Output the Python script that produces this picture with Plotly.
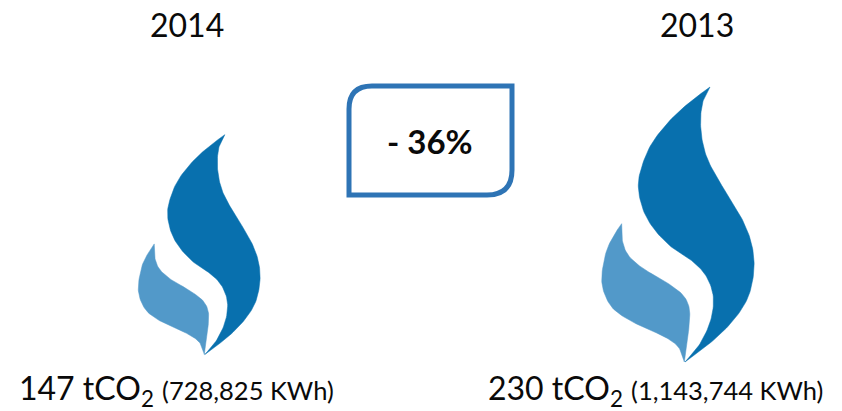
import numpy as np
import plotly.graph_objects as go

# Annual figures
years = ["2014", "2013"]
emissions_tco2 = [147, 230]
energy_kwh = ["728,825", "1,143,744"]
reduction_label = "- 36%"

FONT = "Lato"
DARK_BLUE = "#0870AE"
LIGHT_BLUE = "#5299C9"
BOX_BLUE = "#2E74B5"

# Flame outline in unit coordinates: each edge runs from one sharp corner to the next
FLAME_EDGES = {
    "dark": [
        [(360, 20), (340, 60), (332, 110), (335, 170), (350, 230), (380, 290), (420, 355),
         (458, 420), (482, 480), (492, 540), (488, 600), (470, 660), (430, 720), (370, 780), (285, 845)],
        [(285, 845), (330, 790), (362, 720), (370, 650), (350, 590), (310, 545), (250, 505),
         (195, 450), (160, 390), (145, 320), (155, 260), (185, 190), (240, 120), (300, 65), (360, 20)],
    ],
    "light": [
        [(95, 430), (97, 480), (115, 525), (160, 565), (220, 600), (275, 640), (297, 680),
         (298, 730), (290, 790), (283, 845)],
        [(283, 845), (265, 800), (225, 770), (170, 745), (110, 715), (65, 680), (40, 630),
         (36, 580), (50, 510), (75, 460), (95, 430)],
    ],
}


def smooth_edge(points, steps=10):
    """Catmull-Rom curve through the points, keeping both end corners sharp."""
    p = np.array(points, dtype=float)
    p = np.vstack([p[0], p, p[-1]])
    t = np.linspace(0, 1, steps, endpoint=False)[:, None]
    out = []
    for i in range(1, len(p) - 2):
        a, b, c, d = p[i - 1], p[i], p[i + 1], p[i + 2]
        out.append(0.5 * (2 * b + (c - a) * t + (2 * a - 5 * b + 4 * c - d) * t**2
                          + (3 * b - a - 3 * c + d) * t**3))
    out.append(p[-2][None, :])
    return np.vstack(out)


def unit_outline(edges):
    xy = np.vstack([smooth_edge(e) for e in edges])
    return (xy[:, 0] - 36) / 456, (xy[:, 1] - 20) / 825


# Flame area scales with emissions; each flame is placed by its left edge and base point
SCALE_REF_VALUE = 230
REF_WIDTH, REF_HEIGHT = 152, 275
flame_left = [138.5, 602]
flame_bottom = [354.5, 362]

fig = go.Figure()

for year, value, left, bottom in zip(years, emissions_tco2, flame_left, flame_bottom):
    k = np.sqrt(value / SCALE_REF_VALUE)
    w, h = REF_WIDTH * k, REF_HEIGHT * k
    for part, color in (("light", LIGHT_BLUE), ("dark", DARK_BLUE)):
        u, v = unit_outline(FLAME_EDGES[part])
        fig.add_trace(go.Scatter(
            x=left + u * w, y=bottom - h + v * h,
            mode="lines", fill="toself", fillcolor=color,
            line=dict(color=color, width=0.5), hoverinfo="skip", name=f"{year} {part}",
        ))

# Callout box with two rounded corners
fig.add_shape(
    type="path",
    path="M 372 86 L 512 86 L 512 170 Q 512 195 487 195 L 349 195 L 349 109 Q 349 86 372 86 Z",
    line=dict(color=BOX_BLUE, width=5), fillcolor="white", layer="below",
)


def text(x, y, s, size, **kw):
    fig.add_annotation(x=x, y=y, text=s, showarrow=False, xanchor="center", yanchor="middle",
                       font=dict(family=FONT, size=size, color="#0A0A0A"), **kw)


year_x = [187, 697]
for year, x in zip(years, year_x):
    text(x, 24, year, 32)

text(430, 141, f"<b>{reduction_label}</b>", 33)

caption_x = [176, 655]
for value, kwh, x in zip(emissions_tco2, energy_kwh, caption_x):
    caption = (f"{value} tCO<sub>2</sub> "
               f"<span style='font-size:25.5px'>({kwh} KWh)</span>")
    text(x, 390, caption, 32)

fig.update_layout(
    width=842, height=411, margin=dict(l=0, r=0, t=0, b=0),
    paper_bgcolor="white", plot_bgcolor="white", showlegend=False,
    xaxis=dict(range=[0, 842], visible=False, fixedrange=True),
    yaxis=dict(range=[411, 0], visible=False, fixedrange=True),
)

fig.write_html("out.html", config={"displayModeBar": False})
